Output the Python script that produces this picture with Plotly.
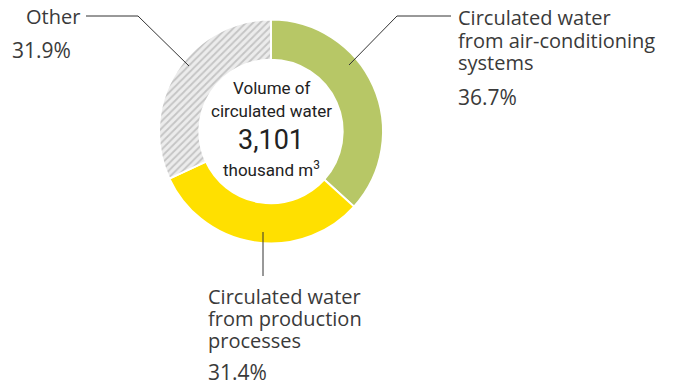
import plotly.graph_objects as go

W, H = 679, 386
labels = ["Circulated water from air-conditioning systems",
          "Circulated water from production processes",
          "Other"]
values = [36.7, 31.4, 31.9]
colors = ["#b7c766", "#ffe000", "#ececec"]
total_text = "3,101"

TXT = "#3a3a3a"
FONT = "Open Sans"
CFONT = "Liberation Sans Narrow, Roboto, sans-serif"

cx, cy, R = 271, 131.5, 112

def px(x):
    return x / W

def py(y):
    return 1 - y / H

fig = go.Figure(go.Pie(
    labels=labels, values=values, sort=False, direction="clockwise", rotation=0,
    hole=0.64, textinfo="none", hoverinfo="label+percent",
    marker=dict(colors=colors, line=dict(color="white", width=2),
                pattern=dict(shape=["", "", "/"], fgcolor="#c4c4c4", bgcolor="#ececec",
                             size=5, solidity=0.35)),
    domain=dict(x=[px(cx - R), px(cx + R)], y=[py(cy + R), py(cy - R)]),
    showlegend=False,
))

shapes = []
def seg(x0, y0, x1, y1):
    shapes.append(dict(type="line", xref="paper", yref="paper",
                       x0=px(x0), y0=py(y0), x1=px(x1), y1=py(y1),
                       line=dict(color="#333333", width=1)))

seg(86, 16, 138, 16); seg(138, 16, 189, 66)
seg(349, 65, 397, 16); seg(397, 16, 451, 16)
seg(263, 232, 263, 276)

ann = []
def text(x, y, s, size=20, anchor="left", font=FONT, color=TXT):
    ann.append(dict(xref="paper", yref="paper", x=px(x), y=py(y), text=s,
                    showarrow=False, xanchor=anchor, yanchor="middle",
                    font=dict(family=font, size=size, color=color)))

text(24, 16, "Other")
text(10, 50, f"{values[2]}%", size=21)
text(456, 17, "Circulated water")
text(456, 40, "from air-conditioning")
text(456, 62, "systems")
text(456, 97, f"{values[0]}%", size=21)
text(206, 296, "Circulated water")
text(206, 318, "from production")
text(206, 340, "processes")
text(206, 372, f"{values[1]}%", size=21)

text(cx, 88, "Volume of", size=17, anchor="center", font=CFONT, color="#222")
text(cx, 111, "circulated water", size=17, anchor="center", font=CFONT, color="#222")
text(cx, 140, total_text, size=27, anchor="center", font=CFONT, color="#222")
text(cx, 169, "thousand m<sup>3</sup>", size=17, anchor="center", font=CFONT, color="#222")

fig.update_layout(width=W, height=H, margin=dict(l=0, r=0, t=0, b=0),
                  paper_bgcolor="white", plot_bgcolor="white",
                  shapes=shapes, annotations=ann)
fig.write_html("out.html")
